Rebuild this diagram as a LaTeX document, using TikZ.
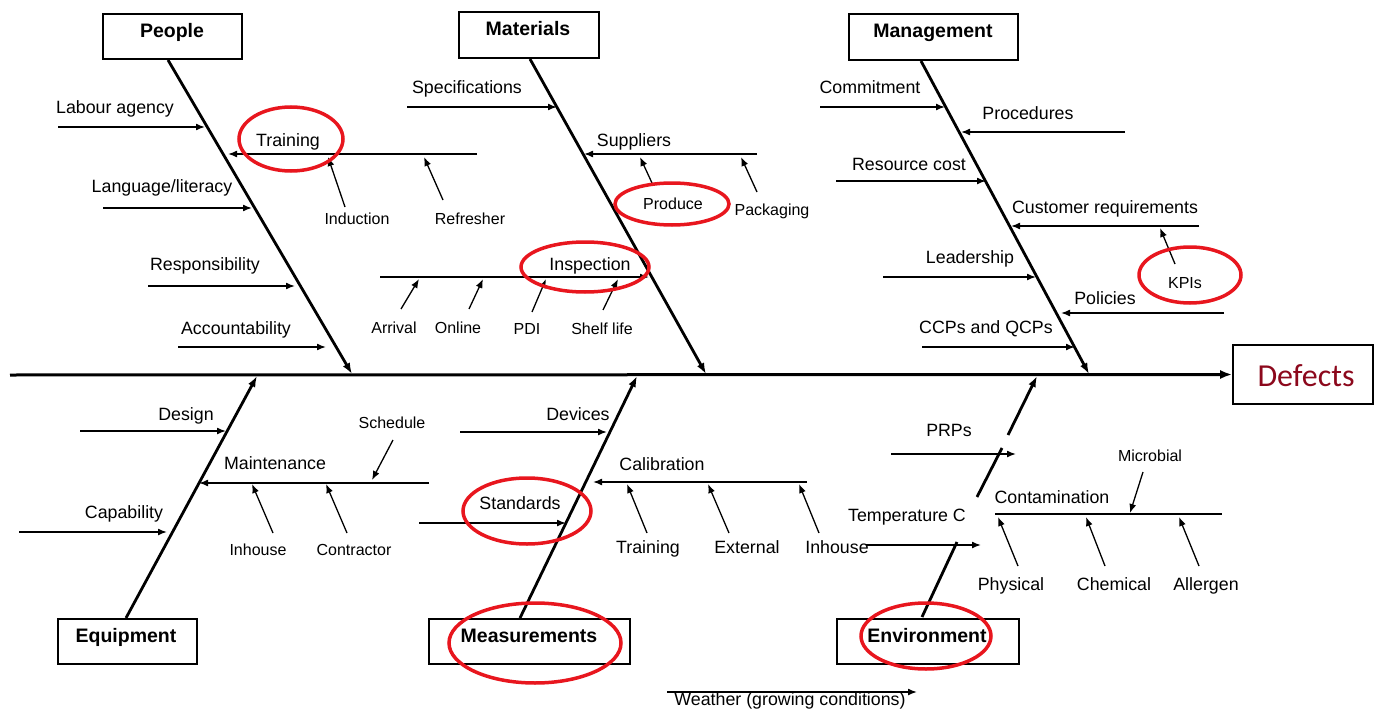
\documentclass[tikz,border=0pt]{standalone}
\usepackage{fontspec}
\setmainfont{Liberation Sans}
\newfontfamily\calibrifont{Carlito}
\usetikzlibrary{arrows.meta}
\definecolor{ringred}{RGB}{232,22,30}
\definecolor{defred}{RGB}{140,8,28}
\begin{document}
\begin{tikzpicture}[x=1pt,y=-1pt,
  txt/.style={inner sep=0pt, text height=0.72em, text depth=0pt, yshift=-3pt, font=\fontsize{17.8}{20}\selectfont},
  small/.style={txt, font=\fontsize{16}{18}\selectfont},
  ttl/.style={txt, font=\fontsize{19.5}{22}\selectfont\bfseries},
  catbox/.style={draw, line width=1.6pt, inner sep=0pt},
  spine/.style={line width=2.8pt, -{Latex[length=11pt,width=8pt]}},
  plainspine/.style={line width=2.8pt},
  cause/.style={line width=1.5pt, -{Latex[length=9pt,width=7pt]}},
  sub/.style={line width=1.3pt, -{Latex[length=9pt,width=7pt]}},
  ring/.style={draw=ringred, line width=3.5pt}]
\useasboundingbox (0,0) rectangle (1377,709);

% ---------- main spine and effect ----------
\node[catbox, minimum width=140pt, minimum height=59pt] (defects) at (1303,374.5) {};
\node[inner sep=0pt, font=\calibrifont\fontsize{32}{36}\selectfont, text=defred] (defectsT) at (1306,376) {Defects};
\coordinate (tail) at (10,375);
\draw[line width=3pt, -{Latex[length=12pt,width=9pt]}] (tail) -- (defects.west);

% ---------- People ----------
\node[catbox, minimum width=139pt, minimum height=45pt] (peopleBox) at (172.5,36.5) {};
\node[ttl] (peopleT) at (172,31) {People};
\coordinate (pS) at (168,60); \coordinate (pE) at (352,374);
\draw[spine] (pS) -- (pE);
\node[txt] (labour) at (115,107) {Labour agency};
\draw[cause] (58,127) -- (205,127);
\node[txt] (training) at (288,140) {Training};
\draw[cause] (477,154) -- (228,154);
\node[small] (induction) at (357,218) {Induction};
\draw[sub] (345,207) -- (328,157);
\node[small] (refresher) at (470,218) {Refresher};
\draw[sub] (443,200) -- (424,157);
\node[txt] (language) at (162,186) {Language/literacy};
\draw[cause] (103,208) -- (252,208);
\node[txt] (respons) at (205,264) {Responsibility};
\draw[cause] (148,286) -- (295,286);
\node[txt] (account) at (236,328) {Accountability};
\draw[cause] (178,347) -- (326,347);

% ---------- Materials ----------
\node[catbox, minimum width=140pt, minimum height=46pt] (matBox) at (529,35) {};
\node[ttl] (matT) at (528,29) {Materials};
\coordinate (mS) at (530,59); \coordinate (mE) at (706,374);
\draw[spine] (mS) -- (mE);
\node[txt] (spec) at (467,87) {Specifications};
\draw[cause] (407,107) -- (557,107);
\node[txt] (suppliers) at (634,140) {Suppliers};
\draw[cause] (757,154) -- (584,154);
\node[small] (produce) at (673,203) {Produce};
\draw[sub] (652,183) -- (640,157);
\node[small] (packaging) at (772,209) {Packaging};
\draw[sub] (757,192) -- (741,157);
\node[txt] (inspection) at (590,264) {Inspection};
\draw[cause] (380,277) -- (649,277);
\node[small] (arrival) at (394,327) {Arrival};
\draw[sub] (401,309) -- (419,279);
\node[small] (online) at (458,327) {Online};
\draw[sub] (469,309) -- (483,279);
\node[small] (pdi) at (527,328) {PDI};
\draw[sub] (532,312) -- (546,279);
\node[small] (shelf) at (602,328) {Shelf life};
\draw[sub] (603,310) -- (618,279);

% ---------- Management ----------
\node[catbox, minimum width=169pt, minimum height=46pt] (mgmtBox) at (933.5,37) {};
\node[ttl] (mgmtT) at (933,31) {Management};
\coordinate (gS) at (921,61); \coordinate (gE) at (1089,374);
\draw[spine] (gS) -- (gE);
\node[txt] (commit) at (870,87) {Commitment};
\draw[cause] (820,107) -- (945,107);
\node[txt] (proc) at (1028,113) {Procedures};
\draw[cause] (1125,132) -- (961,132);
\node[txt] (resource) at (909,164) {Resource cost};
\draw[cause] (836,181) -- (986,181);
\node[txt] (custreq) at (1105,207) {Customer requirements};
\draw[cause] (1199,226) -- (1011,226);
\node[small] (kpis) at (1185,282) {KPIs};
\draw[sub] (1175,264) -- (1160,228);
\node[txt] (leader) at (970,257) {Leadership};
\draw[cause] (883,277) -- (1036,277);
\node[txt] (policies) at (1105,298) {Policies};
\draw[cause] (1224,313) -- (1061,313);
\node[txt] (ccps) at (986,327) {CCPs and QCPs};
\draw[cause] (922,347) -- (1075,347);

% ---------- Equipment ----------
\node[catbox, minimum width=139pt, minimum height=45pt] (equipBox) at (127.5,641.5) {};
\node[ttl] (equipT) at (126,636) {Equipment};
\coordinate (eS) at (126,618); \coordinate (eE) at (257,376);
\draw[spine] (eS) -- (eE);
\node[txt] (design) at (186,414) {Design};
\draw[cause] (80,431) -- (226,431);
\node[txt] (maint) at (275,463) {Maintenance};
\draw[cause] (429,483) -- (199,483);
\node[small] (schedule) at (392,422) {Schedule};
\draw[sub] (393,440) -- (372,480);
\node[small] (inhouseA) at (258,549) {Inhouse};
\draw[sub] (273,533) -- (252,484);
\node[small] (contractor) at (354,549) {Contractor};
\draw[sub] (347,533) -- (326,484);
\node[txt] (capab) at (124,512) {Capability};
\draw[cause] (19,532) -- (167,532);

% ---------- Measurements ----------
\node[catbox, minimum width=201pt, minimum height=45pt] (measBox) at (529.5,641.5) {};
\node[ttl] (measT) at (529,636) {Measurements};
\coordinate (sS) at (520,618); \coordinate (sE) at (637,376);
\draw[spine] (sS) -- (sE);
\node[txt] (devices) at (578,414) {Devices};
\draw[cause] (460,432) -- (607,432);
\node[txt] (calib) at (662,464) {Calibration};
\draw[cause] (807,482) -- (593,482);
\node[txt] (trainingB) at (648,547) {Training};
\draw[sub] (647,533) -- (627,484);
\node[txt] (external) at (747,547) {External};
\draw[sub] (729,533) -- (708,484);
\node[txt] (inhouseB) at (837,547) {Inhouse};
\draw[sub] (819,533) -- (799,484);
\node[txt] (standards) at (520,503) {Standards};
\draw[cause] (419,523) -- (566,523);

% ---------- Environment ----------
\node[catbox, minimum width=182pt, minimum height=45pt] (envBox) at (928,641.5) {};
\node[ttl] (envT) at (927,636) {Environment};
\draw[plainspine] (922,617) -- (957,542);
\draw[plainspine] (977,497) -- (1002,448);
\draw[spine] (1008,435) -- (1037,376);
\node[txt] (prps) at (949,430) {PRPs};
\draw[cause] (891,454) -- (1016,454);
\node[txt] (temp) at (907,515) {Temperature C};
\draw[cause] (866,545) -- (981,545);
\node[txt] (contam) at (1052,497) {Contamination};
\coordinate (cA) at (995,514); \coordinate (cB) at (1222,514);
\draw[line width=1.5pt] (cA) -- (cB);
\node[small] (microbial) at (1150,455) {Microbial};
\draw[sub] (1143,472) -- (1130,513);
\node[txt] (physical) at (1011,584) {Physical};
\draw[sub] (1018,566) -- (998,517);
\node[txt] (chemical) at (1114,584) {Chemical};
\draw[sub] (1105,566) -- (1086,517);
\node[txt] (allergen) at (1206,584) {Allergen};
\draw[sub] (1199,566) -- (1179,517);
\node[txt] (weather) at (790,699) {Weather (growing conditions)};
\draw[cause] (667,692) -- (917,692);

% ---------- red rings ----------
\draw[ring] (291,139) ellipse [x radius=52pt, y radius=32pt];
\draw[ring] (672,204) ellipse [x radius=57pt, y radius=21pt];
\draw[ring] (585,267) ellipse [x radius=64pt, y radius=25pt];
\draw[ring] (1190,275) ellipse [x radius=51pt, y radius=28pt];
\draw[ring] (527,511) ellipse [x radius=64pt, y radius=33pt];
\draw[ring] (535,643) ellipse [x radius=86pt, y radius=40pt];
\draw[ring] (926,636) ellipse [x radius=65pt, y radius=33pt];
\end{tikzpicture}
\end{document}
